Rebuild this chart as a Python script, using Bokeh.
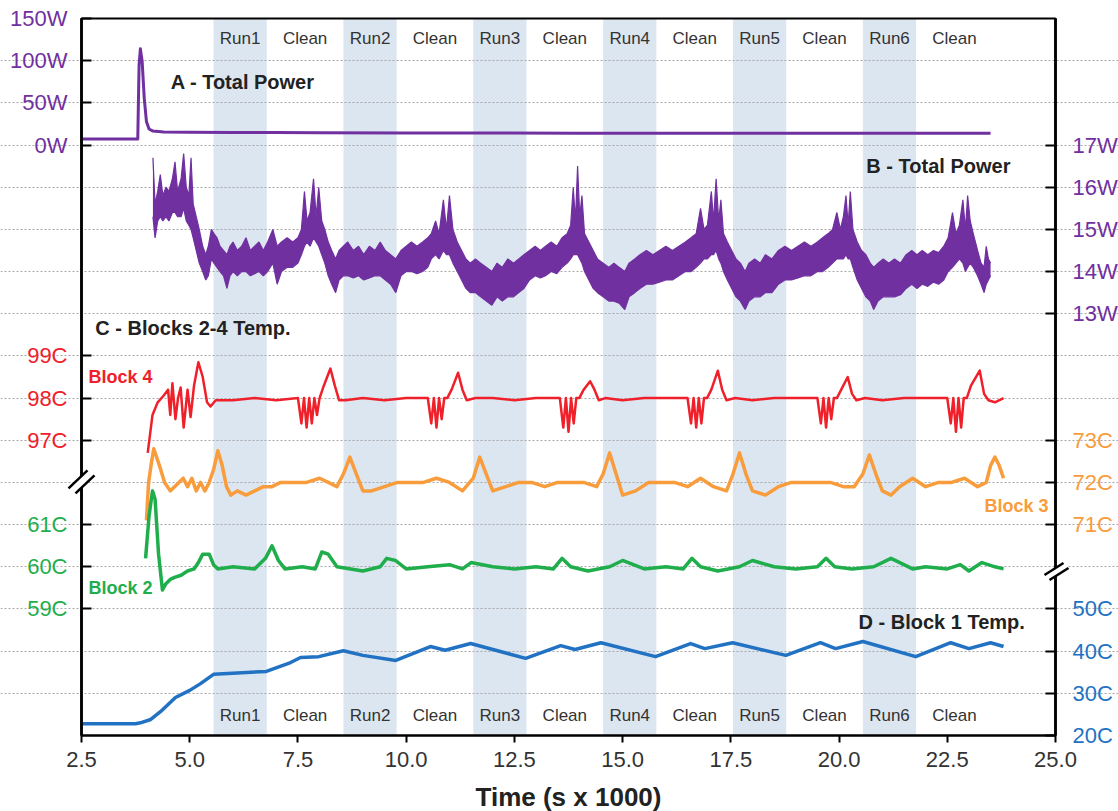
from bokeh.plotting import figure
from bokeh.models import (Range1d, LinearAxis, FixedTicker, PrintfTickFormatter, Grid,
                          Label, BoxAnnotation)
from bokeh.core.properties import value
from bokeh.embed import file_html
from bokeh.resources import INLINE

# ---------------- data ----------------
run_start = [5.55, 8.55, 11.55, 14.55, 17.55, 20.55]
run_end = [6.78, 9.78, 12.78, 15.78, 18.78, 21.78]
clean_end = [8.55, 11.55, 14.55, 17.55, 20.55, 23.55]
run_names = ["Run1", "Run2", "Run3", "Run4", "Run5", "Run6"]

x_ticks = [2.5, 5.0, 7.5, 10.0, 12.5, 15.0, 17.5, 20.0, 22.5, 25.0]
a_ticks = [0, 50, 100, 150]
b_ticks = [13, 14, 15, 16, 17]
c4_ticks = [97, 98, 99]
c3_ticks = [71, 72, 73]
c2_ticks = [59, 60, 61]
d_ticks = [20, 30, 40, 50]

# A - total power (W)
x_a = [2.5, 3.80, 3.83, 3.86, 3.90, 3.95, 4.00, 4.06, 4.15, 4.4, 5.0, 6.0, 7.0, 8.0, 10.0,
       12.0, 14.0, 16.0, 18.0, 20.0, 22.0, 23.5]
a_w = [7, 7, 95, 114, 100, 55, 28, 19, 16.5, 15.5, 15.2, 14.8, 14.8, 14.5, 14.3,
       14.3, 14.0, 14.1, 14.0, 14.1, 14.0, 14.0]

# B - total power (W): min / max envelope of the noisy trace
x_b = [4.15, 4.20, 4.26, 4.32, 4.38, 4.45, 4.52, 4.60, 4.66, 4.72, 4.80, 4.86, 4.92, 4.98,
       5.03, 5.08, 5.15, 5.22, 5.30, 5.37, 5.43, 5.50, 5.56, 5.63, 5.70, 5.78, 5.86, 5.93,
       6.00, 6.10, 6.20, 6.30, 6.40, 6.50, 6.60, 6.70, 6.80, 6.92, 7.02, 7.12, 7.25, 7.38,
       7.50, 7.58, 7.65, 7.71, 7.78, 7.86, 7.92, 7.98, 8.05, 8.12, 8.20, 8.28, 8.37, 8.45,
       8.55, 8.65, 8.78, 8.90, 9.02, 9.15, 9.28, 9.40, 9.52, 9.64, 9.76, 9.88, 10.00, 10.12,
       10.25, 10.38, 10.50, 10.58, 10.68, 10.76, 10.86, 10.93, 11.00, 11.08, 11.18, 11.28,
       11.38, 11.48, 11.60, 11.72, 11.85, 11.98, 12.10, 12.22, 12.35, 12.48, 12.60, 12.72,
       12.85, 12.98, 13.10, 13.22, 13.35, 13.48, 13.60, 13.72, 13.80, 13.86, 13.91, 13.96,
       14.01, 14.06, 14.12, 14.22, 14.32, 14.42, 14.55, 14.68, 14.80, 14.92, 15.05, 15.15,
       15.28, 15.40, 15.55, 15.70, 15.85, 16.00, 16.15, 16.30, 16.45, 16.58, 16.70, 16.80,
       16.88, 16.96, 17.05, 17.10, 17.16, 17.22, 17.27, 17.33, 17.42, 17.52, 17.62, 17.72,
       17.83, 17.92, 18.05, 18.18, 18.30, 18.45, 18.60, 18.75, 18.90, 19.05, 19.20, 19.35,
       19.50, 19.62, 19.75, 19.85, 19.95, 20.03, 20.10, 20.16, 20.21, 20.26, 20.32, 20.42,
       20.52, 20.62, 20.72, 20.80, 20.90, 21.02, 21.15, 21.28, 21.42, 21.55, 21.68, 21.80,
       21.92, 22.05, 22.18, 22.30, 22.42, 22.52, 22.62, 22.70, 22.78, 22.86, 22.92, 22.97,
       23.03, 23.10, 23.20, 23.28, 23.35, 23.40, 23.45, 23.50]
b_hi = [16.7, 15.6, 15.9, 16.3, 15.8, 16.0, 15.9, 16.2, 16.6, 15.9, 16.2, 16.8, 16.0, 15.8,
        16.7, 15.6, 15.3, 15.0, 14.6, 14.4, 14.6, 15.0, 14.9, 14.8, 14.6, 14.5, 14.4, 14.6,
        14.7, 14.5, 14.6, 14.8, 14.5, 14.6, 14.7, 14.5, 14.7, 15.0, 14.6, 14.7, 14.8, 14.7,
        14.8, 15.0, 15.9, 15.2, 15.4, 16.2, 15.3, 16.0, 15.2, 15.0, 14.7, 14.5, 14.3, 14.5,
        14.6, 14.7, 14.5, 14.6, 14.4, 14.6, 14.5, 14.7, 14.5, 14.4, 14.3, 14.5, 14.6, 14.7,
        14.6, 14.7, 14.8, 14.9, 15.2, 14.9, 15.7, 15.0, 15.8, 15.0, 14.7, 14.5,
        14.3, 14.2, 14.3, 14.2, 14.1, 14.0, 14.2, 14.1, 14.3, 14.2, 14.3, 14.4,
        14.5, 14.6, 14.5, 14.6, 14.7, 14.6, 14.8, 14.9, 15.1, 16.0, 15.2, 16.5,
        15.3, 15.8, 14.9, 14.7, 14.5, 14.3, 14.2, 14.1, 14.2, 14.1, 14.0, 14.2,
        14.3, 14.4, 14.5, 14.4, 14.5, 14.6, 14.5, 14.6, 14.7, 14.8, 14.9, 15.5,
        15.0, 15.1, 15.9, 15.2, 16.2, 15.2, 15.7, 14.9, 14.7, 14.5, 14.3, 14.2,
        14.0, 14.2, 14.3, 14.2, 14.4, 14.3, 14.5, 14.6, 14.5, 14.6, 14.7, 14.6,
        14.7, 14.8, 14.9, 15.0, 15.4, 15.0, 15.3, 15.8, 15.1, 15.9, 15.0, 14.7,
        14.5, 14.4, 14.2, 14.1, 14.2, 14.3, 14.2, 14.3, 14.2, 14.4, 14.5, 14.4,
        14.5, 14.4, 14.5, 14.45, 14.6, 14.8, 15.4, 14.9, 15.1, 15.7, 15.0, 15.8,
        15.2, 14.9, 14.5, 14.2, 14.1, 14.6, 14.3, 14.2]
b_lo = [15.3, 14.8, 15.2, 15.3, 15.2, 15.3, 15.2, 15.4, 15.4, 15.3, 15.3, 15.5, 15.2, 15.1,
        15.0, 14.8, 14.5, 14.2, 14.0, 13.8, 13.9, 14.3, 14.2, 14.1, 14.0, 13.9, 13.6, 13.9,
        14.0, 13.9, 14.0, 14.0, 13.9, 13.95, 14.0, 13.9, 14.0, 14.2, 13.7, 14.0, 14.1, 14.1,
        14.2, 14.4, 14.6, 14.7, 14.6, 14.8, 14.7, 14.6, 14.4, 14.2, 13.9, 13.7, 13.5, 13.8,
        13.9, 13.9, 13.85, 13.9, 13.8, 13.85, 13.9, 13.9, 13.8, 13.7, 13.5, 13.9, 14.0, 14.0,
        13.95, 14.0, 14.1, 14.3, 14.4, 14.3, 14.5, 14.4, 14.4, 14.2, 14.0, 13.8,
        13.6, 13.5, 13.5, 13.4, 13.3, 13.2, 13.4, 13.3, 13.4, 13.4, 13.5, 13.6,
        13.8, 13.9, 13.85, 13.9, 14.0, 13.95, 14.1, 14.2, 14.3, 14.4, 14.4, 14.4,
        14.3, 14.2, 14.0, 13.8, 13.6, 13.5, 13.4, 13.3, 13.3, 13.25, 13.1, 13.4,
        13.5, 13.6, 13.7, 13.7, 13.75, 13.8, 13.8, 13.9, 14.0, 14.0, 14.1, 14.2,
        14.3, 14.3, 14.4, 14.4, 14.5, 14.3, 14.2, 14.0, 13.8, 13.6, 13.4, 13.3,
        13.1, 13.3, 13.4, 13.4, 13.5, 13.5, 13.7, 13.8, 13.8, 13.85, 13.9, 13.9,
        14.0, 14.0, 14.1, 14.2, 14.3, 14.3, 14.3, 14.4, 14.3, 14.3, 14.1, 13.8,
        13.6, 13.4, 13.3, 13.1, 13.3, 13.4, 13.4, 13.4, 13.45, 13.6, 13.7, 13.6,
        13.7, 13.65, 13.75, 13.7, 13.8, 14.0, 14.1, 14.2, 14.3, 14.2, 14.0, 14.1,
        14.2, 14.1, 13.9, 13.7, 13.5, 13.7, 13.8, 13.9]

# C - Block 4 temperature (C)
x_r = [4.03, 4.14, 4.26, 4.39, 4.50, 4.55, 4.60, 4.67, 4.73, 4.79, 4.86, 4.95, 5.02, 5.10,
       5.20, 5.30, 5.40, 5.48, 5.60, 6.00, 6.50, 7.00, 7.50, 7.58, 7.64, 7.70, 7.76, 7.82,
       7.88, 7.94, 8.00, 8.10, 8.25, 8.35, 8.45, 8.60, 9.00, 9.50, 10.0, 10.50, 10.58, 10.64,
       10.70, 10.76, 10.82, 10.88, 10.95, 11.05, 11.20, 11.30, 11.40, 11.60, 12.0, 12.5,
       13.0, 13.55, 13.63, 13.69, 13.75, 13.81, 13.87, 13.93, 14.00, 14.10, 14.25, 14.35,
       14.45, 14.60, 15.0, 15.5, 16.0, 16.50, 16.58, 16.64, 16.70, 16.76, 16.82, 16.88,
       16.95, 17.05, 17.20, 17.30, 17.40, 17.60, 18.0, 18.5, 19.0, 19.50, 19.58, 19.64,
       19.70, 19.76, 19.82, 19.88, 19.95, 20.05, 20.20, 20.30, 20.40, 20.60, 21.0, 21.5,
       22.0, 22.50, 22.58, 22.64, 22.70, 22.76, 22.82, 22.88, 22.95, 23.05, 23.25, 23.35,
       23.45, 23.60, 23.80]
r_c = [96.7, 97.6, 97.9, 98.05, 98.2, 97.6, 98.35, 97.5, 98.0, 98.25, 97.3, 98.2, 97.55, 98.3,
       98.85, 98.5, 97.9, 97.8, 97.95, 97.95, 98.0, 97.95, 98.0, 97.4, 98.0, 97.3, 98.0, 97.4,
       98.0, 97.6, 98.0, 98.3, 98.7, 98.3, 97.95, 97.95, 98.0, 97.95, 98.0, 98.0, 97.4, 98.0,
       97.3, 98.0, 97.5, 98.0, 98.0, 98.2, 98.6, 98.2, 97.95, 98.0, 98.0, 97.95,
       98.0, 98.0, 97.3, 98.0, 97.2, 98.0, 97.4, 98.0, 98.0, 98.2, 98.4, 98.2,
       97.95, 98.0, 97.95, 98.0, 98.0, 98.0, 97.4, 98.0, 97.3, 98.0, 97.4, 98.0,
       98.0, 98.2, 98.65, 98.2, 97.95, 98.0, 97.95, 98.0, 98.0, 98.0, 97.4, 98.0,
       97.3, 98.0, 97.5, 98.0, 98.0, 98.2, 98.5, 98.1, 97.95, 98.0, 97.95, 98.0,
       98.0, 98.0, 97.4, 98.0, 97.2, 98.0, 97.3, 98.0, 98.0, 98.3, 98.65, 98.1,
       97.95, 97.9, 98.0]

# C - Block 3 temperature (C)
x_o = [4.00, 4.05, 4.12, 4.17, 4.30, 4.42, 4.55, 4.65, 4.75, 4.85, 4.95, 5.05, 5.15, 5.25,
       5.35, 5.45, 5.55, 5.65, 5.75, 5.85, 5.95, 6.10, 6.30, 6.50, 6.70, 6.90, 7.10, 7.40,
       7.70, 8.00, 8.20, 8.40, 8.55, 8.70, 8.85, 9.00, 9.20, 9.50, 9.80, 10.1, 10.4, 10.7,
       11.0, 11.3, 11.55, 11.70, 11.85, 12.0, 12.3, 12.6, 12.9, 13.2, 13.5, 13.8, 14.1,
       14.4, 14.55, 14.70, 14.85, 15.0, 15.3, 15.6, 15.9, 16.2, 16.5, 16.8, 17.1, 17.4,
       17.55, 17.70, 17.85, 18.0, 18.3, 18.6, 18.9, 19.2, 19.5, 19.8, 20.1, 20.35, 20.55,
       20.70, 20.85, 21.0, 21.2, 21.4, 21.7, 22.0, 22.3, 22.6, 22.9, 23.2, 23.4, 23.50,
       23.60, 23.70, 23.80]
o_c = [71.1, 72.0, 72.5, 72.8, 72.4, 72.0, 71.8, 71.9, 72.0, 72.1, 71.9, 72.1, 71.8, 72.0,
       71.8, 72.0, 72.3, 72.75, 72.4, 71.9, 71.7, 71.8, 71.7, 71.8, 71.9, 71.9, 72.0, 72.0,
       72.0, 72.1, 72.0, 71.9, 72.2, 72.6, 72.2, 71.8, 71.8, 71.9, 72.0, 72.0, 72.0, 72.1,
       72.0, 71.8, 72.1, 72.6, 72.2, 71.8, 71.9, 72.0, 72.0, 71.9, 72.0, 72.0, 72.0,
       71.9, 72.2, 72.7, 72.2, 71.7, 71.8, 72.0, 72.0, 72.0, 71.9, 72.1, 71.9, 71.8,
       72.2, 72.7, 72.2, 71.8, 71.7, 71.9, 72.0, 72.0, 72.0, 72.0, 71.9, 71.9, 72.2,
       72.65, 72.2, 71.8, 71.7, 71.9, 72.1, 71.9, 72.0, 72.0, 72.1, 71.9, 72.0, 72.4,
       72.6, 72.4, 72.1]

# C - Block 2 temperature (C)
x_g = [3.98, 4.06, 4.14, 4.20, 4.28, 4.37, 4.45, 4.55, 4.65, 4.80, 4.95, 5.10, 5.20, 5.30,
       5.45, 5.55, 5.65, 6.00, 6.50, 6.75, 6.90, 7.05, 7.20, 7.60, 7.90, 8.05, 8.20, 8.40,
       9.00, 9.40, 9.55, 9.75, 10.0, 10.5, 11.0, 11.3, 11.5, 12.0, 12.5, 13.0, 13.4, 13.6,
       13.8, 14.2, 14.7, 15.0, 15.5, 16.0, 16.4, 16.6, 16.8, 17.2, 17.7, 18.0, 18.5, 19.0,
       19.5, 19.7, 19.9, 20.3, 20.8, 21.2, 21.7, 22.0, 22.5, 22.8, 23.0, 23.3, 23.6, 23.8]
g_c = [60.2, 61.2, 61.8, 61.6, 60.3, 59.45, 59.6, 59.7, 59.75, 59.8, 59.9, 59.95, 60.1, 60.3,
       60.3, 60.05, 59.95, 60.0, 59.95, 60.2, 60.5, 60.15, 59.95, 60.0, 59.95, 60.35, 60.3, 60.0,
       59.9, 60.0, 60.2, 60.15, 59.95, 60.0, 60.05, 59.95, 60.1, 60.0, 59.95, 60.0, 59.95, 60.2,
       60.0, 59.9, 60.0, 60.15, 59.95, 60.0, 59.95, 60.2, 60.0, 59.9, 60.0, 60.15, 60.0, 59.95,
       60.0, 60.2, 60.0, 59.95, 60.0, 60.2, 59.95, 60.0, 59.95, 60.05, 59.9, 60.1, 60.0, 59.95]

# D - Block 1 temperature (C)
x_d = [2.5, 3.75, 3.86, 4.1, 4.33, 4.67, 5.0, 5.25, 5.55, 6.77, 7.33, 7.56, 7.98, 8.55, 9.0,
       9.76, 10.56, 10.9, 11.49, 12.76, 13.57, 13.9, 14.5, 15.76, 16.57, 16.9, 17.54, 18.77,
       19.57, 19.92, 20.55, 21.77, 22.58, 23.0, 23.5, 23.8]
d_c = [22.8, 22.8, 23.0, 23.8, 25.7, 29.0, 30.7, 32.3, 34.5, 35.2, 37.3, 38.5, 38.7, 40.1,
       39.0, 37.8, 41.1, 40.2, 41.8, 38.3, 41.3, 40.4, 42.0, 38.7, 41.8, 40.6, 42.0, 39.0,
       42.0, 40.6, 42.3, 38.7, 42.0, 40.6, 42.0, 41.1]

# ---------------- layout / styling ----------------
PURPLE = "#7030a0"
RED = "#f0202a"
ORANGE = "#f89c3c"
GREEN = "#1fae4b"
BLUE = "#2272c3"
BAND = "#dce6f1"
FONT = "Liberation Sans"

W, H = 1118, 811
PX_L, PX_R, PX_T, PX_B = 81, 1055, 18, 735      # plot box inside the canvas
XMIN, XMAX = 2.5, 25.0
N_ROWS = 17                                      # 17 grid rows of equal height
sx = (PX_R - PX_L) / (XMAX - XMIN)
sy = (PX_B - PX_T) / N_ROWS
X0, X1 = XMIN - PX_L / sx, XMAX + (W - PX_R) / sx
U0, U1 = -(H - PX_B) / sy, N_ROWS + PX_T / sy

p = figure(width=W, height=H, x_range=Range1d(X0, X1), y_range=Range1d(U0, U1),
           output_backend="svg", toolbar_location=None, x_axis_location=None,
           y_axis_location=None, min_border_left=0, min_border_right=0,
           min_border_top=0, min_border_bottom=0)
p.background_fill_color = "white"
p.border_fill_color = "white"
p.outline_line_color = None
p.xgrid.visible = False
p.ygrid.visible = False

# each panel: value at the bottom row line, value per grid row
panels = {"A": (-700, 50), "B": (3, 1), "C4": (90, 1), "C3": (66, 1), "C2": (56, 1), "D": (20, 10)}
p.extra_y_ranges = {k: Range1d(v0 + dv * U0, v0 + dv * U1) for k, (v0, dv) in panels.items()}

# run bands
p.quad(left=run_start, right=run_end, bottom=0, top=N_ROWS, fill_color=BAND,
       line_color=None, level="image")

# horizontal dotted gridlines
p.add_layout(Grid(dimension=1, ticker=FixedTicker(ticks=list(range(1, N_ROWS))),
                  bounds=(XMIN, XMAX), grid_line_color="#a8a8a8", grid_line_dash="2 2",
                  grid_line_width=1))

# run / clean labels
lab_x = [(s + e) / 2 for s, e in zip(run_start, run_end)] + \
        [(e + c) / 2 for e, c in zip(run_end, clean_end)]
lab_t = run_names + ["Clean"] * len(run_names)
for yy in (16.52, 0.47):
    p.text(x=lab_x, y=[yy] * len(lab_x), text=lab_t, text_align="center",
           text_baseline="middle", text_font=value(FONT), text_font_size="17px",
           text_color="#333333")

# data
p.line(x_a, a_w, y_range_name="A", line_color=PURPLE, line_width=3, line_join="round")
p.varea(x=x_b, y1=b_lo, y2=b_hi, y_range_name="B", fill_color=PURPLE)
p.line(x_b, b_hi, y_range_name="B", line_color=PURPLE, line_width=1.2)
p.line(x_b, b_lo, y_range_name="B", line_color=PURPLE, line_width=1.2)
p.line(x_r, r_c, y_range_name="C4", line_color=RED, line_width=2.5, line_join="round")
p.line(x_o, o_c, y_range_name="C3", line_color=ORANGE, line_width=3.5, line_join="round")
p.line(x_g, g_c, y_range_name="C2", line_color=GREEN, line_width=3.5, line_join="round")
p.line(x_d, d_c, y_range_name="D", line_color=BLUE, line_width=3.5, line_join="round")

# plot box
p.add_layout(BoxAnnotation(left=XMIN, right=XMAX, bottom=0, top=N_ROWS, fill_color=None,
                           line_color="black", line_width=2, line_alpha=1))


def add_axis(side, rng, ticks, fmt, color, loc, standoff):
    v0, dv = panels[rng]
    ax = LinearAxis(y_range_name=rng, ticker=FixedTicker(ticks=ticks),
                    formatter=PrintfTickFormatter(format=fmt), fixed_location=loc,
                    bounds=(v0, v0 + dv * N_ROWS))
    ax.axis_line_color = "black"
    ax.axis_line_width = 2
    ax.major_tick_line_color = "black"
    ax.major_tick_line_width = 2
    ax.major_tick_in = 10
    ax.major_tick_out = 0
    ax.minor_tick_line_color = None
    ax.major_label_text_font = FONT
    ax.major_label_text_font_size = "22px"
    ax.major_label_text_color = color
    ax.major_label_standoff = standoff
    p.add_layout(ax, side)


add_axis("left", "A", a_ticks, "%dW", PURPLE, XMIN, 14)
add_axis("left", "C4", c4_ticks, "%dC", RED, XMIN, 14)
add_axis("left", "C2", c2_ticks, "%dC", GREEN, XMIN, 14)
add_axis("right", "B", b_ticks, "%dW", PURPLE, XMAX, 17)
add_axis("right", "C3", c3_ticks, "%dC", ORANGE, XMAX, 17)
add_axis("right", "D", d_ticks, "%dC", BLUE, XMAX, 17)

xa = LinearAxis(ticker=FixedTicker(ticks=x_ticks), formatter=PrintfTickFormatter(format="%.1f"),
                fixed_location=0, bounds=(XMIN, XMAX))
xa.axis_line_color = "black"
xa.axis_line_width = 2
xa.major_tick_line_width = 2
xa.major_tick_in = 0
xa.major_tick_out = 7
xa.minor_tick_line_color = None
xa.major_label_text_font = FONT
xa.major_label_text_font_size = "22px"
xa.major_label_text_color = "#333333"
xa.major_label_standoff = 9
xa.axis_label = "Time (s x 1000)"
xa.axis_label_text_font = FONT
xa.axis_label_text_font_style = "bold"
xa.axis_label_text_font_size = "26px"
xa.axis_label_text_color = "#222222"
xa.axis_label_standoff = 12
p.add_layout(xa, "below")

# axis break marks (pixel offsets around the break point)
breaks = [(XMIN, 6.0, [(-13, 6), (6, -12)], [(-6, 11), (13, -7)]),
          (XMAX, 3.9, [(-11, 4), (8, -8)], [(-6, 9), (13, -3)])]
for bx, by, l1, l2 in breaks:
    def conv(pt):
        return bx + pt[0] / sx, by - pt[1] / sy
    a1, a2 = conv(l1[0]), conv(l1[1])
    b1, b2 = conv(l2[0]), conv(l2[1])
    p.patch([a1[0], a2[0], b2[0], b1[0]], [a1[1], a2[1], b2[1], b1[1]], fill_color="white",
            line_color=None, level="overlay")
    p.segment(x0=[a1[0], b1[0]], y0=[a1[1], b1[1]], x1=[a2[0], b2[0]], y1=[a2[1], b2[1]],
              line_color="black", line_width=2.5, level="overlay")

# panel titles and series names
titles = [("A - Total Power", 4.56, 15.5, "#222222", "20px"),
          ("B - Total Power", 20.63, 13.51, "#222222", "20px"),
          ("C - Blocks 2-4 Temp.", 2.82, 9.65, "#222222", "20px"),
          ("D - Block 1 Temp.", 20.45, 2.70, "#222222", "20px"),
          ("Block 4", 2.66, 8.49, RED, "18px"),
          ("Block 3", 23.36, 5.45, ORANGE, "18px"),
          ("Block 2", 2.66, 3.49, GREEN, "18px")]
for t, tx, ty, tc, fs in titles:
    p.add_layout(Label(x=tx, y=ty, text=t, text_font=FONT, text_font_style="bold",
                       text_font_size=fs, text_color=tc, text_baseline="middle",
                       text_align="left"))

open("out.html", "w").write(file_html(p, INLINE))
